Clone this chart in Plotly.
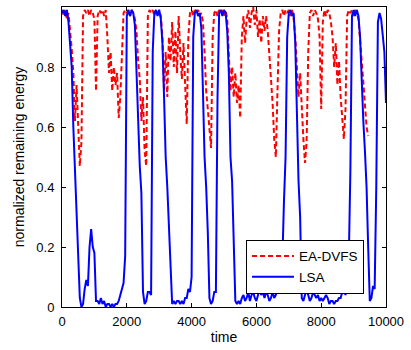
import plotly.graph_objects as go

# time axis sampling (step 50)
time_lsa = list(range(0, 10001, 50))
time_ea = list(range(0, 9451, 50))

ea_dvfs = [
    0.99, 0.97, 0.99, 0.96, 0.98, 0.93, 0.86, 0.78, 0.62, 0.74, 0.60, 0.47, 0.55, 0.97, 0.99, 0.98, 0.99, 0.97, 0.99, 0.98,
    0.96, 0.72, 0.97, 0.99, 0.98, 0.99, 0.97, 0.99, 0.90, 0.78, 0.85, 0.72, 0.80, 0.74, 0.78, 0.63, 0.70, 0.85, 0.98, 0.99,
    0.98, 0.99, 0.97, 0.99, 0.98, 0.96, 0.92, 0.82, 0.76, 0.62, 0.70, 0.52, 0.47, 0.97, 0.99, 0.98, 0.99, 0.97, 0.99, 0.98,
    0.99, 0.97, 0.90, 0.72, 0.85, 0.70, 0.90, 0.82, 0.95, 0.80, 0.92, 0.78, 0.97, 0.85, 0.76, 0.88, 0.72, 0.61, 0.90, 0.98,
    0.99, 0.97, 0.99, 0.98, 0.99, 0.97, 0.98, 0.95, 0.85, 0.72, 0.66, 0.60, 0.53, 0.90, 0.98, 0.99, 0.97, 0.99, 0.98, 0.99,
    0.97, 0.99, 0.96, 0.84, 0.72, 0.80, 0.70, 0.78, 0.68, 0.74, 0.63, 0.90, 0.97, 0.88, 0.96, 0.99, 0.93, 0.98, 1.00, 0.94,
    0.99, 0.90, 0.96, 0.88, 0.97, 0.92, 0.97, 0.92, 0.84, 0.76, 0.68, 0.56, 0.50, 0.72, 0.92, 0.98, 0.99, 0.97, 0.99, 0.98,
    0.99, 0.97, 0.99, 0.96, 0.90, 0.80, 0.70, 0.78, 0.64, 0.56, 0.48, 0.55, 0.85, 0.98, 0.99, 0.97, 0.99, 0.98, 0.96, 0.90,
    0.66, 0.95, 0.99, 0.97, 0.99, 0.98, 0.95, 0.90, 0.80, 0.88, 0.74, 0.82, 0.70, 0.62, 0.56, 0.66, 0.97, 0.99, 0.98, 0.99,
    0.97, 0.99, 0.98, 0.96, 0.90, 0.82, 0.75, 0.68, 0.60, 0.57,
]

lsa = [
    0.98, 0.99, 0.97, 0.99, 0.95, 0.88, 0.80, 0.60, 0.45, 0.33, 0.15, 0.03, 0.00, 0.01, 0.06, 0.09, 0.07, 0.20, 0.26, 0.20,
    0.18, 0.02, 0.02, 0.01, 0.03, 0.01, 0.02, 0.00, 0.01, 0.01, 0.00, 0.01, 0.00, 0.01, 0.01, 0.02, 0.04, 0.06, 0.08, 0.17,
    0.97, 0.99, 0.97, 0.99, 0.98, 0.94, 0.78, 0.60, 0.47, 0.38, 0.05, 0.01, 0.02, 0.05, 0.05, 0.04, 0.85, 0.98, 0.99, 0.97,
    0.99, 0.96, 0.88, 0.70, 0.50, 0.40, 0.28, 0.12, 0.01, 0.02, 0.01, 0.02, 0.02, 0.01, 0.02, 0.01, 0.03, 0.03, 0.06, 0.05,
    0.10, 0.90, 0.98, 0.99, 0.97, 0.98, 0.93, 0.72, 0.50, 0.40, 0.25, 0.03, 0.01, 0.02, 0.05, 0.05, 0.70, 0.98, 0.99, 0.97,
    0.99, 0.98, 0.92, 0.78, 0.50, 0.42, 0.20, 0.02, 0.01, 0.02, 0.01, 0.03, 0.04, 0.02, 0.03, 0.05, 0.02, 0.04, 0.05, 0.03,
    0.02, 0.04, 0.06, 0.04, 0.05, 0.03, 0.05, 0.04, 0.02, 0.03, 0.05, 0.03, 0.04, 0.06, 0.05, 0.08, 0.15, 0.35, 0.50, 0.90,
    0.98, 0.99, 0.97, 0.98, 0.88, 0.65, 0.42, 0.30, 0.03, 0.02, 0.04, 0.06, 0.04, 0.02, 0.03, 0.05, 0.04, 0.03, 0.04, 0.02,
    0.03, 0.02, 0.03, 0.04, 0.03, 0.01, 0.02, 0.02, 0.01, 0.02, 0.02, 0.03, 0.03, 0.05, 0.06, 0.04, 0.08, 0.15, 0.45, 0.97,
    0.99, 0.97, 0.99, 0.97, 0.90, 0.75, 0.62, 0.52, 0.40, 0.20, 0.02, 0.03, 0.07, 0.06, 0.40, 0.95, 0.98, 0.96, 0.90, 0.85,
    0.68,
]

x_ticks = [0, 2000, 4000, 6000, 8000, 10000]
x_tick_labels = ["0", "2000", "4000", "6000", "8000", "10000"]
y_ticks = [0, 0.2, 0.4, 0.6, 0.8, 1]
y_tick_labels = ["0", "0.2", "0.4", "0.6", "0.8", "1"]

assert len(time_lsa) == len(lsa)
assert len(time_ea) == len(ea_dvfs)

FONT = "Liberation Sans, Arial, sans-serif"

fig = go.Figure()
fig.add_trace(go.Scatter(
    x=time_ea, y=ea_dvfs, mode="lines", name="EA-DVFS",
    line=dict(color="#ff0000", width=2, dash="5px,3px"),
))
fig.add_trace(go.Scatter(
    x=time_lsa, y=lsa, mode="lines", name="LSA",
    line=dict(color="#0000ff", width=2),
))

axis_common = dict(
    showline=True, linecolor="black", linewidth=1, mirror="ticks",
    ticks="inside", ticklen=4, tickwidth=1, tickcolor="black",
    showgrid=False, zeroline=False, automargin=False,
    tickfont=dict(family=FONT, size=13, color="black"),
)

fig.update_layout(
    width=411, height=350,
    margin=dict(l=62, r=25, t=7, b=43),
    paper_bgcolor="white", plot_bgcolor="white",
    font=dict(family=FONT, size=13, color="black"),
    xaxis=dict(range=[0, 10000], tickvals=x_ticks, ticktext=x_tick_labels,
               ticklabelstandoff=2,
               title=dict(text="time", standoff=4, font=dict(family=FONT, size=14)),
               **axis_common),
    yaxis=dict(range=[0, 1], tickvals=y_ticks, ticktext=y_tick_labels,
               ticklabelstandoff=4,
               title=dict(text="normalized remaining energy", standoff=8, font=dict(family=FONT, size=14)),
               **axis_common),
    legend=dict(x=0.932, y=0.044, xanchor="right", yanchor="bottom",
                bgcolor="white", bordercolor="black", borderwidth=1,
                font=dict(family=FONT, size=13.5, color="black"),
                itemwidth=42, tracegroupgap=0),
    showlegend=True,
)

fig.write_html(
    "out.html",
    config={"displayModeBar": False},
    post_script="document.body.style.margin='0';document.body.style.overflow='hidden';",
)
